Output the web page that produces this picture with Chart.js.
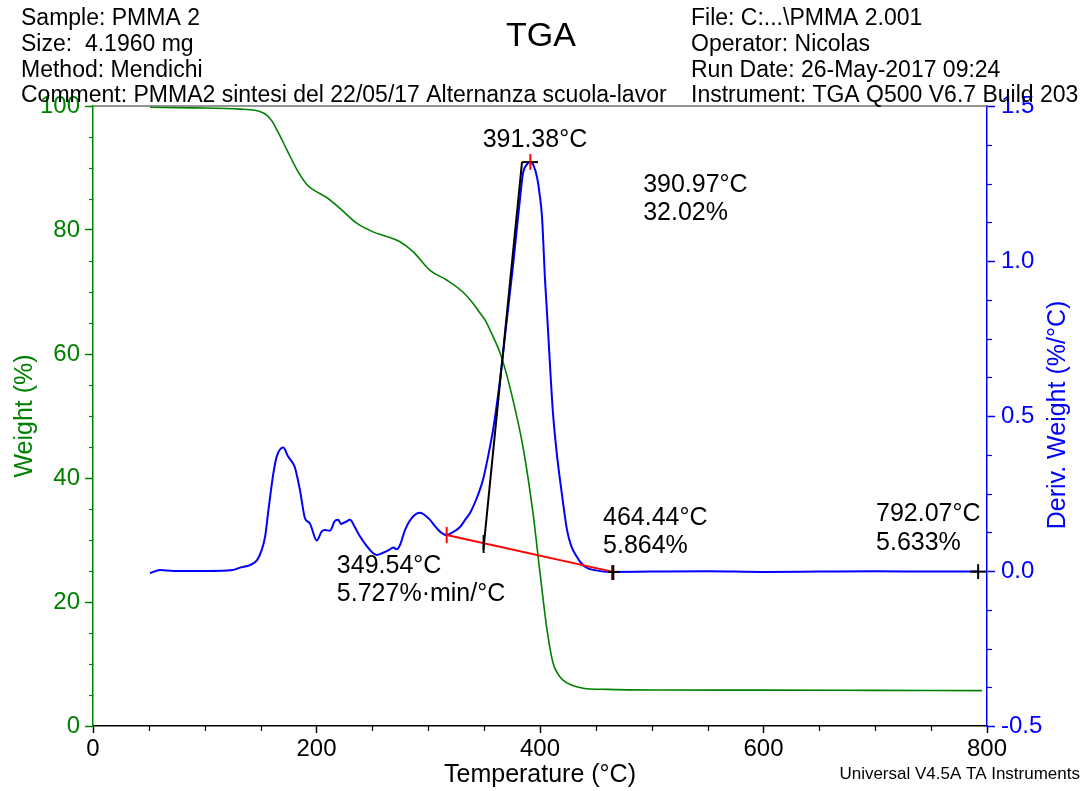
<!DOCTYPE html>
<html>
<head>
<meta charset="utf-8">
<script src="https://cdn.jsdelivr.net/npm/chart.js@4.4.1/dist/chart.umd.min.js"></script>
<style>
html,body{margin:0;padding:0;background:#fff;overflow:hidden}
#wrap{width:1089px;height:791px;position:relative}
</style>
</head>
<body>
<div id="wrap"><canvas id="c" width="1089" height="791"></canvas></div>
<script>
// ---------- data ----------
const weightTemp = [51,90,131.5,145,152,155.7,160,164.7,173.6,182.6,191.5,196.9,209.4,221,236,250.6,262,274.7,286.4,301.6,316.8,331,340,346.3,350.8,357,364.2,370,375.8,384.8,393.7,400,406.3,411.6,416,420.6,428,438.5,460,507.4,600,700,795.5];
const weightPct  = [99.8,99.7,99.5,99.3,98.9,98.5,97.6,96.1,92.9,89.7,87.3,86.5,85.2,83.5,81.1,79.7,79.0,78.1,76.5,73.5,71.9,70.0,68.2,66.6,65.5,63.2,60.2,56.8,52.6,45.0,34.4,24.7,15.5,10.2,8.4,7.4,6.6,6.1,5.9,5.8,5.78,5.74,5.7];

const derivTemp = [51,60,72,102,125,131.5,140.5,146.8,151,154,157,161.4,164.4,170.3,174.5,179,181,185.2,189.7,194,200.2,204.6,207.6,212,216.6,219.5,222,226,230,234.5,239,245,250.8,253.9,259,265.8,268.7,271.8,274.7,279.2,285,292.6,297,301.6,306,310.5,316.5,322,328.4,333,337.4,340,345,349,353,358,364.2,370,376,382,384.8,388,391,394,397.3,399.5,401.8,404.5,406.3,409,411.6,415,417.9,421,424.2,428,433.1,437,442,450,462.6,500,550,600,650,700,750,793];
const derivVal  = [-0.007,0.003,0.0,0.0,0.003,0.011,0.019,0.035,0.068,0.111,0.197,0.315,0.369,0.398,0.37,0.347,0.33,0.261,0.17,0.154,0.098,0.127,0.132,0.13,0.162,0.165,0.152,0.158,0.165,0.14,0.111,0.08,0.057,0.052,0.058,0.07,0.076,0.07,0.084,0.132,0.17,0.188,0.18,0.165,0.145,0.127,0.116,0.125,0.142,0.165,0.187,0.206,0.25,0.294,0.36,0.455,0.616,0.80,0.99,1.197,1.284,1.31,1.32,1.31,1.271,1.22,1.142,0.939,0.832,0.66,0.51,0.38,0.294,0.21,0.132,0.08,0.045,0.025,0.01,0.002,-0.003,-0.002,-0.001,-0.003,-0.002,-0.001,-0.002,-0.002];

const xTicks = [0,200,400,600,800];
const weightTicks = [0,20,40,60,80,100];
const derivTicks = [-0.5,0.0,0.5,1.0,1.5];

const headerLeft = ["Sample: PMMA 2","Size:  4.1960 mg","Method: Mendichi","Comment: PMMA2 sintesi del 22/05/17 Alternanza scuola-lavor"];
const headerRight = ["File: C:...\\PMMA 2.001","Operator: Nicolas","Run Date: 26-May-2017 09:24","Instrument: TGA Q500 V6.7 Build 203"];
const titleText = "TGA";
const footerText = "Universal V4.5A TA Instruments";

// analysis annotations (temperature, deriv value)
const annoTexts = [
  {t:395.5, d:1.39, text:"391.38°C", align:"center"},
  {t:492.3, d:1.245, text:"390.97°C"},
  {t:492.3, d:1.155, text:"32.02%"},
  {t:218.2, d:0.016, text:"349.54°C"},
  {t:218.2, d:-0.074, text:"5.727%·min/°C"},
  {t:456.4, d:0.171, text:"464.44°C"},
  {t:456.4, d:0.081, text:"5.864%"},
  {t:700.7, d:0.184, text:"792.07°C"},
  {t:700.7, d:0.090, text:"5.633%"}
];
// segments: [t1,d1,t2,d2,color]
const annoSegs = [
  [316.5,0.116,464.44,-0.002,'#ff0000'],
  [316.5,0.142,316.5,0.090,'#ff0000'],
  [464.44,0.019,464.44,-0.029,'#ff0000'],
  [465.6,0.019,465.6,-0.029,'#000000'],
  [460.8,-0.003,471.6,-0.003,'#000000'],
  [349.3,0.068,383.9,1.319,'#000000'],
  [349.54,0.116,349.54,0.058,'#000000'],
  [383.9,1.319,398.2,1.319,'#000000'],
  [391.38,1.345,391.38,1.294,'#ff0000'],
  [784.8,-0.002,799.2,-0.002,'#000000'],
  [792.07,0.022,792.07,-0.026,'#000000']
];

const GREEN = 'rgb(0,128,0)';
const BLUE = 'rgb(0,0,255)';
const FONT = '"Liberation Sans", Arial, sans-serif';

const decorPlugin = {
  id: 'decor',
  afterDraw(chart) {
    const {ctx, chartArea: a, scales} = chart;
    const X = scales.x, W = scales.yW, D = scales.yD;
    ctx.save();
    // top frame line
    ctx.strokeStyle = '#707070';
    ctx.lineWidth = 1.5;
    ctx.beginPath(); ctx.moveTo(a.left, a.top); ctx.lineTo(a.right, a.top); ctx.stroke();
    // minor ticks
    ctx.lineWidth = 1.2;
    ctx.strokeStyle = '#000';
    for (let v = 0; v <= 800; v += 50) {
      if (v % 200 === 0) continue;
      const p = Math.round(X.getPixelForValue(v)) + 0.5;
      ctx.beginPath(); ctx.moveTo(p, a.bottom); ctx.lineTo(p, a.bottom + 5); ctx.stroke();
    }
    ctx.strokeStyle = GREEN;
    for (let v = 0; v <= 100; v += 5) {
      if (v % 20 === 0) continue;
      const p = Math.round(W.getPixelForValue(v)) + 0.5;
      ctx.beginPath(); ctx.moveTo(a.left - 4, p); ctx.lineTo(a.left, p); ctx.stroke();
    }
    ctx.strokeStyle = BLUE;
    for (let i = 0; i <= 16; i++) {
      if (i % 4 === 0) continue;
      const v = -0.5 + i * 0.125;
      const p = Math.round(D.getPixelForValue(v)) + 0.5;
      ctx.beginPath(); ctx.moveTo(a.right, p); ctx.lineTo(a.right + 5, p); ctx.stroke();
    }
    // annotation segments
    ctx.lineWidth = 2;
    annoSegs.forEach(s => {
      ctx.strokeStyle = s[4];
      ctx.beginPath();
      ctx.moveTo(X.getPixelForValue(s[0]), D.getPixelForValue(s[1]));
      ctx.lineTo(X.getPixelForValue(s[2]), D.getPixelForValue(s[3]));
      ctx.stroke();
    });
    // annotation texts
    ctx.fillStyle = '#000';
    ctx.font = '25px ' + FONT;
    ctx.textBaseline = 'middle';
    annoTexts.forEach(o => {
      ctx.textAlign = o.align || 'left';
      ctx.fillText(o.text, X.getPixelForValue(o.t), D.getPixelForValue(o.d));
    });
    // header
    ctx.font = '23px ' + FONT;
    ctx.textAlign = 'left';
    const lineY = [19, 45, 71, 96];
    headerLeft.forEach((t, i) => ctx.fillText(t, 21, lineY[i]));
    headerRight.forEach((t, i) => ctx.fillText(t, 691, lineY[i]));
    ctx.font = '34px ' + FONT;
    ctx.textAlign = 'center';
    ctx.fillText(titleText, 541, 37);
    // footer
    ctx.font = '17px ' + FONT;
    ctx.textAlign = 'right';
    ctx.fillText(footerText, 1080, 774);
    // right axis title
    ctx.save();
    ctx.translate(1058, 415);
    ctx.rotate(-Math.PI / 2);
    ctx.font = '25px ' + FONT;
    ctx.fillStyle = BLUE;
    ctx.textAlign = 'center';
    ctx.fillText('Deriv. Weight (%/°C)', 0, 0);
    ctx.restore();
    ctx.restore();
  }
};

const chart = new Chart(document.getElementById('c'), {
  type: 'line',
  data: {
    datasets: [
      {
        label: 'Weight (%)',
        data: weightTemp.map((t, i) => ({x: t, y: weightPct[i]})),
        yAxisID: 'yW',
        borderColor: GREEN,
        borderWidth: 1.6,
        pointRadius: 0,
        cubicInterpolationMode: 'monotone',
        fill: false
      },
      {
        label: 'Deriv. Weight (%/°C)',
        data: derivTemp.map((t, i) => ({x: t, y: derivVal[i]})),
        yAxisID: 'yD',
        borderColor: BLUE,
        borderWidth: 2,
        pointRadius: 0,
        cubicInterpolationMode: 'monotone',
        fill: false
      }
    ]
  },
  options: {
    responsive: false,
    animation: false,
    devicePixelRatio: 1,
    layout: {padding: {top: 106, left: 0, right: 0, bottom: 0}},
    plugins: {legend: {display: false}, tooltip: {enabled: false}, title: {display: false}},
    scales: {
      x: {
        type: 'linear', min: 0, max: 800,
        afterBuildTicks: s => { s.ticks = xTicks.map(v => ({value: v})); },
        afterFit: s => { s.height = 65; },
        ticks: {color: '#000', font: {family: FONT, size: 24}, padding: 2, maxRotation: 0, autoSkip: false,
          callback: v => String(v)},
        grid: {drawOnChartArea: false, drawTicks: true, tickLength: 7, tickColor: '#000', tickWidth: 1.5},
        border: {display: true, color: '#000', width: 1.5},
        title: {display: true, text: 'Temperature (°C)', color: '#000', font: {family: FONT, size: 25}, padding: {top: 0, bottom: 1}}
      },
      yW: {
        type: 'linear', position: 'left', min: 0, max: 100,
        afterBuildTicks: s => { s.ticks = weightTicks.map(v => ({value: v})); },
        afterFit: s => { s.width = 93; },
        ticks: {color: GREEN, font: {family: FONT, size: 24}, padding: 5, autoSkip: false, callback: v => String(v)},
        grid: {drawOnChartArea: false, drawTicks: true, tickLength: 8, tickColor: GREEN, tickWidth: 1.5},
        border: {display: true, color: GREEN, width: 1.5},
        title: {display: true, text: 'Weight (%)', color: GREEN, font: {family: FONT, size: 25}, padding: {top: 10, bottom: 0}}
      },
      yD: {
        type: 'linear', position: 'right', min: -0.5, max: 1.5,
        afterBuildTicks: s => { s.ticks = derivTicks.map(v => ({value: v})); },
        afterFit: s => { s.width = 102; },
        ticks: {color: BLUE, font: {family: FONT, size: 24}, padding: 6, autoSkip: false, callback: v => Number(v).toFixed(1)},
        grid: {drawOnChartArea: false, drawTicks: true, tickLength: 8, tickColor: BLUE, tickWidth: 1.5},
        border: {display: true, color: BLUE, width: 1.5}
      }
    }
  },
  plugins: [decorPlugin]
});
</script>
</body>
</html>
